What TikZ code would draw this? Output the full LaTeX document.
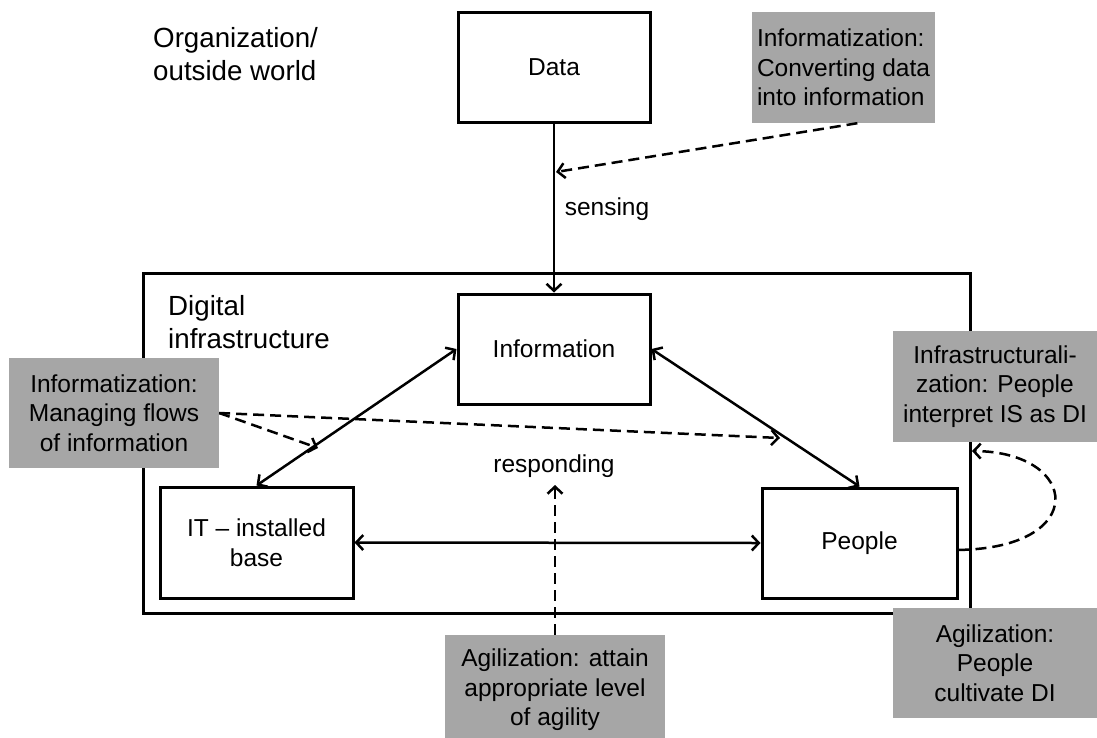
\documentclass[tikz,border=0pt]{standalone}
\usepackage{fontspec}
\setmainfont{Liberation Sans}
\usetikzlibrary{arrows.meta}
\definecolor{notegrey}{RGB}{166,166,166}
\begin{document}
\begin{tikzpicture}[x=1pt,y=-1pt,
  >={Straight Barb[length=7pt,width=15pt]},
  every node/.style={font=\fontsize{24.5}{29.5}\selectfont},
  box/.style={draw=black, line width=3pt, minimum width=192pt, minimum height=110pt, align=center, inner sep=0pt},
  note/.style={fill=notegrey, minimum width=204pt, minimum height=110pt, align=center, inner sep=0pt},
  heading/.style={anchor=north west, align=left, inner sep=0pt, font=\fontsize{27.7}{33}\selectfont},
  tag/.style={inner sep=0pt},
  link/.style={line width=2.5pt},
  hint/.style={line width=2.5pt, dash pattern=on 11pt off 6pt}
]
\useasboundingbox (0,0) rectangle (1097,737);

% digital infrastructure frame
\node (di) [draw=black, line width=3pt, minimum width=827pt, minimum height=340pt, inner sep=0pt] at (556.5,443) {};

% free-standing headings
\node (org) [heading] at (153,27) {Organization/\\outside world};
\node (ditext) [heading] at (168,295) {Digital\\infrastructure};

% main boxes
\node (data) [box] at (554,67) {Data};
\node (info) [box] at (554,349) {Information};
\node (it) [box, minimum width=193pt, minimum height=111pt] at (256.5,542.5) {IT -- installed\\base};
\node (people) [box, minimum width=195pt] at (859.5,543) {People};

% grey annotation boxes
\node (note1) [note, minimum width=183pt, minimum height=111pt, align=left] at (843.5,67.5) {Informatization:\\Converting data\\into information};
\node (note2) [note, minimum width=210pt] at (114,413) {Informatization:\\Managing flows\\of information};
\node (note3) [note, minimum height=111pt] at (995,386.5) {Infrastructurali-\\zation: People\\interpret IS as DI};
\node (note4) [note] at (995,663) {Agilization:\\People\\cultivate DI};
\node (note5) [note, minimum width=220pt] at (555,690) {Agilization: attain\\appropriate level\\of agility};

% labels on the flows
\node (sense) [tag, anchor=base] at (607,215) {sensing};
\node (resp) [tag, anchor=base] at (554,472) {responding};

% solid flows
\draw[link, ->] (data.south) -- (info.north);
\draw[link, <->] (info.west) -- (it.north);
\draw[link, <->] (info.east) -- (people.north);
\draw[link, <->] (it.east) -- (people.west);

% dashed annotation pointers
\coordinate (sensehit) at (556,172);
\coordinate (flowsA) at (318,448);
\coordinate (flowsB) at (780,438);
\coordinate (resphit) at (555,485);
\coordinate (loopend) at (972,451);

\draw[hint, ->] (note1.-76) -- (sensehit);
\draw[hint, ->] (note2.east) -- (flowsA);
\draw[hint, ->] (note2.east) -- (flowsB);
\draw[hint, ->] (note5.north) -- (resphit);
\draw[hint, ->] (people.-4) .. controls (1090,548) and (1080,452) .. (loopend);
\end{tikzpicture}
\end{document}
